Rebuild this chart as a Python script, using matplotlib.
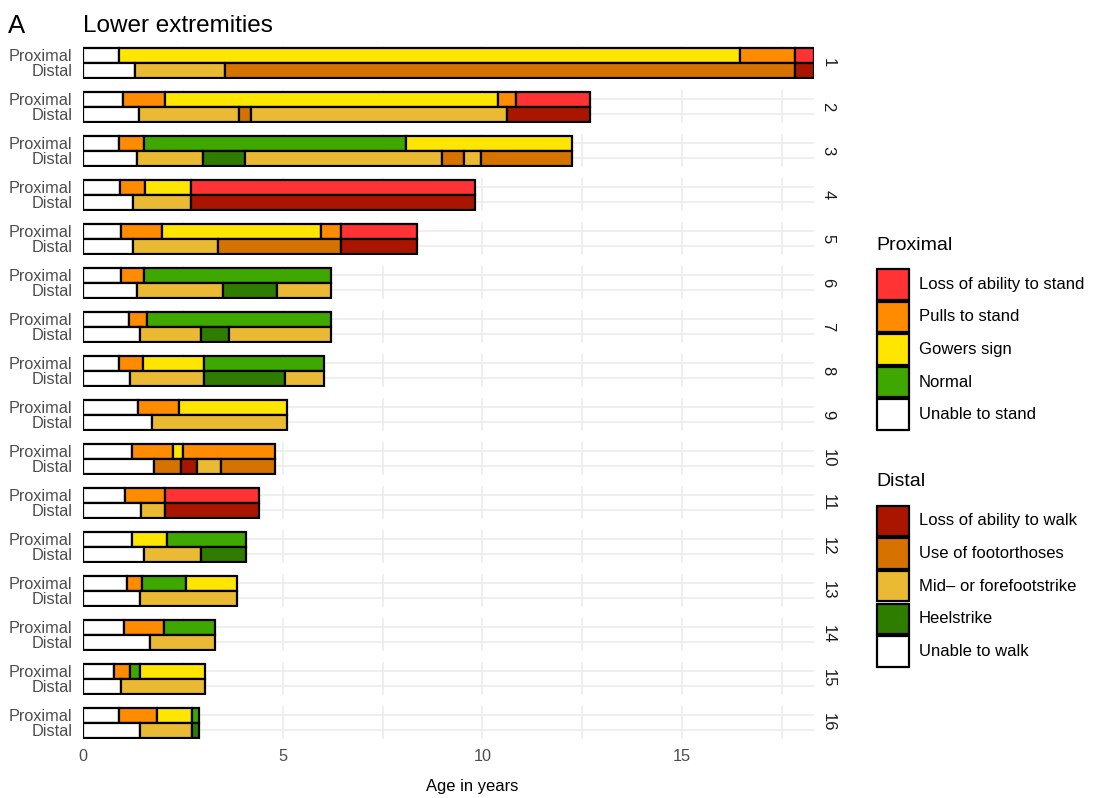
import matplotlib
matplotlib.use("Agg")
import matplotlib.pyplot as plt
from matplotlib.patches import Rectangle

plt.rcParams['font.family'] = ['Liberation Sans', 'DejaVu Sans']

patients = [str(i) for i in range(1, 17)]

# proximal (standing) phases: state per segment and the age at which it ends
prox_states = [
    ['unable', 'gowers', 'pulls', 'loss'],
    ['unable', 'pulls', 'gowers', 'pulls', 'loss'],
    ['unable', 'pulls', 'normal', 'gowers'],
    ['unable', 'pulls', 'gowers', 'loss'],
    ['unable', 'pulls', 'gowers', 'pulls', 'loss'],
    ['unable', 'pulls', 'normal'],
    ['unable', 'pulls', 'normal'],
    ['unable', 'pulls', 'gowers', 'normal'],
    ['unable', 'pulls', 'gowers'],
    ['unable', 'pulls', 'gowers', 'pulls'],
    ['unable', 'pulls', 'loss'],
    ['unable', 'gowers', 'normal'],
    ['unable', 'pulls', 'normal', 'gowers'],
    ['unable', 'pulls', 'normal'],
    ['unable', 'pulls', 'normal', 'gowers'],
    ['unable', 'pulls', 'gowers', 'normal'],
]
prox_ends = [
    [0.90, 16.45, 17.84, 18.30],
    [1.00, 2.06, 10.40, 10.85, 12.70],
    [0.90, 1.53, 8.08, 12.24],
    [0.92, 1.55, 2.70, 9.82],
    [0.94, 1.96, 5.95, 6.46, 8.36],
    [0.95, 1.52, 6.22],
    [1.14, 1.59, 6.22],
    [0.90, 1.49, 3.02, 6.04],
    [1.38, 2.39, 5.10],
    [1.23, 2.24, 2.49, 4.80],
    [1.05, 2.04, 4.40],
    [1.23, 2.11, 4.07],
    [1.09, 1.48, 2.58, 3.85],
    [1.03, 2.02, 3.30],
    [0.76, 1.16, 1.42, 3.05],
    [0.90, 1.85, 2.73, 2.91],
]

# distal (walking) phases
dist_states = [
    ['unable', 'mid', 'foot', 'lossw'],
    ['unable', 'mid', 'foot', 'mid', 'lossw'],
    ['unable', 'mid', 'heel', 'mid', 'foot', 'mid', 'foot'],
    ['unable', 'mid', 'lossw'],
    ['unable', 'mid', 'foot', 'lossw'],
    ['unable', 'mid', 'heel', 'mid'],
    ['unable', 'mid', 'heel', 'mid'],
    ['unable', 'mid', 'heel', 'mid'],
    ['unable', 'mid'],
    ['unable', 'foot', 'lossw', 'mid', 'foot'],
    ['unable', 'mid', 'lossw'],
    ['unable', 'mid', 'heel'],
    ['unable', 'mid'],
    ['unable', 'mid'],
    ['unable', 'mid'],
    ['unable', 'mid', 'heel'],
]
dist_ends = [
    [1.30, 3.55, 17.84, 18.30],
    [1.40, 3.89, 4.21, 10.61, 12.70],
    [1.35, 3.01, 4.04, 9.00, 9.54, 9.97, 12.24],
    [1.25, 2.70, 9.82],
    [1.25, 3.38, 6.46, 8.36],
    [1.34, 3.49, 4.85, 6.22],
    [1.42, 2.94, 3.64, 6.22],
    [1.17, 3.02, 5.05, 6.04],
    [1.71, 5.10],
    [1.77, 2.45, 2.84, 3.44, 4.80],
    [1.45, 2.04, 4.40],
    [1.52, 2.96, 4.07],
    [1.42, 3.85],
    [1.66, 3.30],
    [0.94, 3.05],
    [1.41, 2.73, 2.91],
]

prox_keys = ['loss', 'pulls', 'gowers', 'normal', 'unable']
prox_labels = ['Loss of ability to stand', 'Pulls to stand', 'Gowers sign',
               'Normal', 'Unable to stand']
prox_colors = ['#FF3333', '#FF8C00', '#FFE600', '#3FA800', '#FFFFFF']

dist_keys = ['lossw', 'foot', 'mid', 'heel', 'unable']
dist_labels = ['Loss of ability to walk', 'Use of footorthoses',
               'Mid\u2013 or forefootstrike', 'Heelstrike', 'Unable to walk']
dist_colors = ['#AA1500', '#D57200', '#EBBA35', '#2E7D00', '#FFFFFF']

prox_cmap = dict(zip(prox_keys, prox_colors))
dist_cmap = dict(zip(dist_keys, dist_colors))

W, H = 1094, 798
edge_lw = 1.6
grid_col = '#EBEBEB'
text_col = '#4D4D4D'

fig, axes = plt.subplots(len(patients), 1, sharex=True,
                         figsize=(W / 100, H / 100), dpi=100)
fig.subplots_adjust(left=83.3 / W, right=813.5 / W, top=1 - 46 / H,
                    bottom=1 - 739 / H, hspace=11 / 33)


def draw_row(ax, y, states, ends, cmap):
    start = 0.0
    for s, e in zip(states, ends):
        ax.barh(y, e - start, left=start, height=1.0, color=cmap[s],
                edgecolor='black', linewidth=edge_lw, zorder=3)
        start = e


for i, ax in enumerate(axes):
    draw_row(ax, 2, prox_states[i], prox_ends[i], prox_cmap)
    draw_row(ax, 1, dist_states[i], dist_ends[i], dist_cmap)

    ax.set_ylim(0.4, 2.6)
    ax.set_yticks([2, 1])
    ax.set_yticklabels(['Proximal', 'Distal'], fontsize=11.7, color=text_col)
    ax.set_xlim(0, 18.3)
    ax.set_xticks([0, 5, 10, 15])
    ax.set_xticks([2.5, 7.5, 12.5, 17.5], minor=True)
    ax.tick_params(which='both', length=0, pad=8)
    ax.tick_params(axis='x', labelsize=11.7, labelcolor=text_col, pad=7)
    ax.grid(True, which='major', color=grid_col, linewidth=1.1, zorder=0)
    ax.grid(True, which='minor', axis='x', color=grid_col, linewidth=1.1,
            zorder=0)
    ax.set_axisbelow(True)
    for sp in ax.spines.values():
        sp.set_visible(False)

    # facet strip label on the right
    ax.annotate(patients[i], xy=(1, 0.5), xycoords='axes fraction',
                xytext=(10.5, 0), textcoords='offset points', rotation=-90,
                ha='center', va='center', fontsize=12, color='#1A1A1A')

fig.text(8 / W, 1 - 33 / H, 'A', fontsize=18.5, va='baseline', ha='left')
fig.text(83 / W, 1 - 32.5 / H, 'Lower extremities', fontsize=17.5,
         va='baseline', ha='left')
fig.text(472 / W, 1 - 791 / H, 'Age in years', fontsize=11.9,
         va='baseline', ha='center')


def draw_legend(title, labels, colors, title_y, first_top):
    # legend in pixel units, converted to figure fractions
    key_x, key_w, key_h, step = 876.7, 32, 30.5, 32.6
    fig.text(876 / W, 1 - title_y / H, title, fontsize=14, ha='left',
             va='center')
    for k, (lab, col) in enumerate(zip(labels, colors)):
        top = first_top + k * step
        fig.add_artist(Rectangle((key_x / W, 1 - (top + key_h) / H),
                                 key_w / W, key_h / H,
                                 transform=fig.transFigure, facecolor=col,
                                 edgecolor='black', linewidth=edge_lw))
        fig.text(919 / W, 1 - (top + key_h / 2) / H, lab, fontsize=12,
                 ha='left', va='center')


draw_legend('Proximal', prox_labels, prox_colors, 245, 269)
draw_legend('Distal', dist_labels, dist_colors, 481.7, 505.7)

fig.savefig('out.png', dpi=100, facecolor='white')
